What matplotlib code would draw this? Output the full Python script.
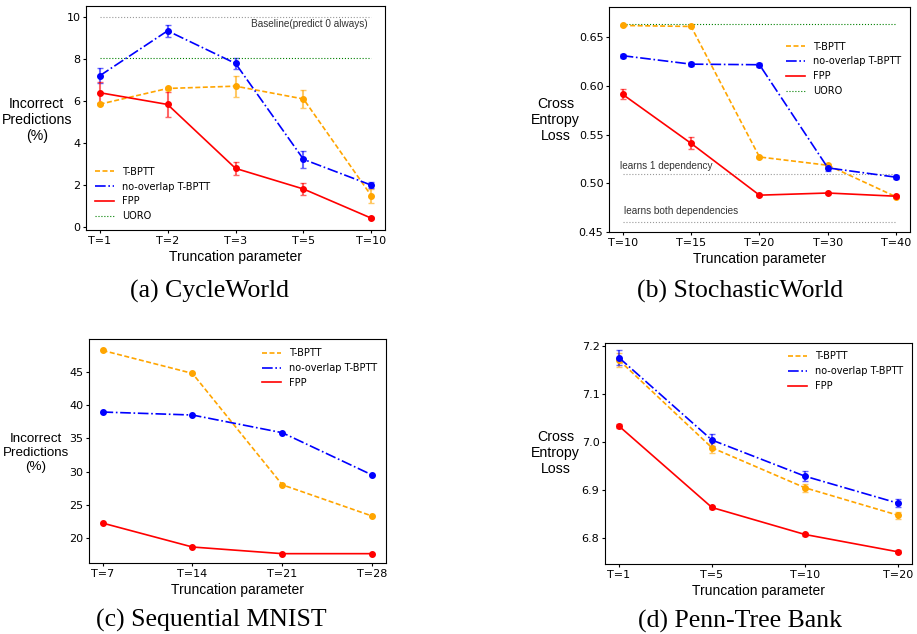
import matplotlib
matplotlib.use("Agg")
import matplotlib.pyplot as plt
from matplotlib.colors import to_rgba
from matplotlib.lines import Line2D

# ---- data ----
# (a) CycleWorld
cw_ticks = ["T=1", "T=2", "T=3", "T=5", "T=10"]
cw_tbptt = [5.83, 6.58, 6.69, 6.08, 1.47]
cw_tbptt_err = [0.05, 0.05, 0.50, 0.45, 0.33]
cw_nov = [7.18, 9.32, 7.77, 3.21, 1.98]
cw_nov_err = [0.35, 0.30, 0.27, 0.40, 0.15]
cw_fpp = [6.38, 5.82, 2.78, 1.80, 0.41]
cw_fpp_err = [0.50, 0.58, 0.30, 0.30, 0.04]
cw_uoro = 8.05
cw_baseline = 10.0

# (b) StochasticWorld
sw_ticks = ["T=10", "T=15", "T=20", "T=30", "T=40"]
sw_tbptt = [0.662, 0.661, 0.527, 0.5185, 0.486]
sw_tbptt_err = [0.001, 0.001, 0.001, 0.001, 0.001]
sw_nov = [0.631, 0.6223, 0.6217, 0.5158, 0.5062]
sw_nov_err = [0.002, 0.002, 0.002, 0.003, 0.002]
sw_fpp = [0.5913, 0.541, 0.4878, 0.490, 0.4867]
sw_fpp_err = [0.005, 0.006, 0.001, 0.001, 0.001]
sw_uoro = 0.664
sw_one_dep = 0.51
sw_both_dep = 0.46

# (c) Sequential MNIST
sm_ticks = ["T=7", "T=14", "T=21", "T=28"]
sm_tbptt = [48.2, 44.75, 28.0, 23.3]
sm_nov = [38.94, 38.49, 35.83, 29.47]
sm_fpp = [22.25, 18.65, 17.65, 17.65]

# (d) Penn-Tree Bank
pt_ticks = ["T=1", "T=5", "T=10", "T=20"]
pt_tbptt = [7.170, 6.988, 6.905, 6.848]
pt_tbptt_err = [0.014, 0.010, 0.008, 0.007]
pt_nov = [7.175, 7.004, 6.929, 6.873]
pt_nov_err = [0.016, 0.012, 0.010, 0.009]
pt_fpp = [7.033, 6.864, 6.808, 6.772]
pt_fpp_err = [0.005, 0.003, 0.003, 0.003]

SANS = "Liberation Sans"
SERIF = "Liberation Serif"

styles = {
    "T-BPTT": dict(color="orange", linestyle=(0, (3, 1.5))),
    "no-overlap T-BPTT": dict(color="blue", linestyle="-."),
    "FPP": dict(color="red", linestyle="-"),
    "UORO": dict(color="green", linestyle=":"),
}


def handles(names):
    out = []
    for n in names:
        lw = 0.8 if n == "UORO" else 1.2
        out.append(Line2D([], [], lw=lw, label=n, **styles[n]))
    return out


def draw(ax, ticks, series):
    x = list(range(len(ticks)))
    for name, y, err in series:
        st = styles[name]
        ax.errorbar(x, y, yerr=err, color=st["color"], linestyle=st["linestyle"],
                    lw=1.2, marker="o", ms=4, capsize=2.5, elinewidth=1.5,
                    ecolor=to_rgba(st["color"], 0.6))
    ax.set_xticks(x)
    ax.set_xticklabels(ticks)
    ax.tick_params(labelsize=8, length=2.5, pad=1.5)
    ax.set_xlabel("Truncation parameter", family=SANS, fontsize=10, labelpad=3)
    return x


def ylab(ax, text, xpos, ypos, size=10.2):
    ax.set_ylabel(text, family=SANS, fontsize=size, rotation=0,
                  ha="center", va="center", linespacing=1.2)
    ax.yaxis.set_label_coords(xpos, ypos)


fig = plt.figure(figsize=(9.17, 6.34), dpi=100)

# (a)
ax = fig.add_axes([0.0938, 0.6372, 0.3261, 0.3533])
x = draw(ax, cw_ticks, [("T-BPTT", cw_tbptt, cw_tbptt_err),
                        ("no-overlap T-BPTT", cw_nov, cw_nov_err),
                        ("FPP", cw_fpp, cw_fpp_err)])
ax.hlines(cw_uoro, x[0], x[-1], color="green", linestyle=":", lw=0.8)
ax.hlines(cw_baseline, x[0], x[-1], color="#999999", linestyle=":", lw=0.8)
ax.text(3.94, 9.63, "Baseline(predict 0 always)", family=SANS, fontsize=7.2,
        ha="right", va="center", color="#333333")
ax.set_ylim(-0.15, 10.5)
ax.set_yticks([0, 2, 4, 6, 8, 10])
ylab(ax, "Incorrect\nPredictions\n(%)", -0.165, 0.49)
ax.legend(handles=handles(["T-BPTT", "no-overlap T-BPTT", "FPP", "UORO"]),
          loc="lower left", frameon=False, fontsize=7)

# (b)
ax = fig.add_axes([0.6641, 0.6341, 0.3282, 0.3549])
x = draw(ax, sw_ticks, [("T-BPTT", sw_tbptt, sw_tbptt_err),
                        ("no-overlap T-BPTT", sw_nov, sw_nov_err),
                        ("FPP", sw_fpp, sw_fpp_err)])
ax.hlines(sw_uoro, x[0], x[-1], color="green", linestyle=":", lw=0.8)
ax.hlines(sw_one_dep, x[0], x[-1], color="#999999", linestyle=":", lw=0.8)
ax.hlines(sw_both_dep, x[0], x[-1], color="#999999", linestyle=":", lw=0.8)
ax.text(-0.04, 0.5174, "learns 1 dependency", family=SANS, fontsize=7.2,
        ha="left", va="center", color="#333333")
ax.text(0.02, 0.4713, "learns both dependencies", family=SANS, fontsize=7.2,
        ha="left", va="center", color="#333333")
ax.set_ylim(0.45, 0.681)
ax.set_yticks([0.45, 0.50, 0.55, 0.60, 0.65])
ylab(ax, "Cross\nEntropy\nLoss", -0.177, 0.498)
ax.legend(handles=handles(["T-BPTT", "no-overlap T-BPTT", "FPP", "UORO"]),
          loc="upper right", bbox_to_anchor=(1.0, 0.885), frameon=False, fontsize=7)

# (c)
ax = fig.add_axes([0.0971, 0.1115, 0.3235, 0.3533])
draw(ax, sm_ticks, [("T-BPTT", sm_tbptt, None),
                    ("no-overlap T-BPTT", sm_nov, None),
                    ("FPP", sm_fpp, None)])
ax.set_ylim(16.2, 49.87)
ax.set_yticks([20, 25, 30, 35, 40, 45])
ylab(ax, "Incorrect\nPredictions\n(%)", -0.18, 0.492, size=9.6)
ax.legend(handles=handles(["T-BPTT", "no-overlap T-BPTT", "FPP"]),
          loc="upper right", frameon=False, fontsize=7)

# (d)
ax = fig.add_axes([0.6598, 0.1099, 0.3345, 0.3495])
draw(ax, pt_ticks, [("T-BPTT", pt_tbptt, pt_tbptt_err),
                    ("no-overlap T-BPTT", pt_nov, pt_nov_err),
                    ("FPP", pt_fpp, pt_fpp_err)])
ax.set_ylim(6.746, 7.206)
ax.set_yticks([6.8, 6.9, 7.0, 7.1, 7.2])
ylab(ax, "Cross\nEntropy\nLoss", -0.161, 0.502)
ax.legend(handles=handles(["T-BPTT", "no-overlap T-BPTT", "FPP"]),
          loc="upper right", frameon=False, fontsize=7)

# captions
cap = dict(family=SERIF, fontsize=18.5, ha="center", va="center")
fig.text(210 / 917, 1 - 291.7 / 634, "(a) CycleWorld", **cap)
fig.text(740 / 917, 1 - 291.7 / 634, "(b) StochasticWorld", **cap)
fig.text(211.7 / 917, 1 - 620 / 634, "(c) Sequential MNIST", **cap)
fig.text(740 / 917, 1 - 621.7 / 634, "(d) Penn-Tree Bank", **cap)

fig.savefig("out.png", dpi=100)
